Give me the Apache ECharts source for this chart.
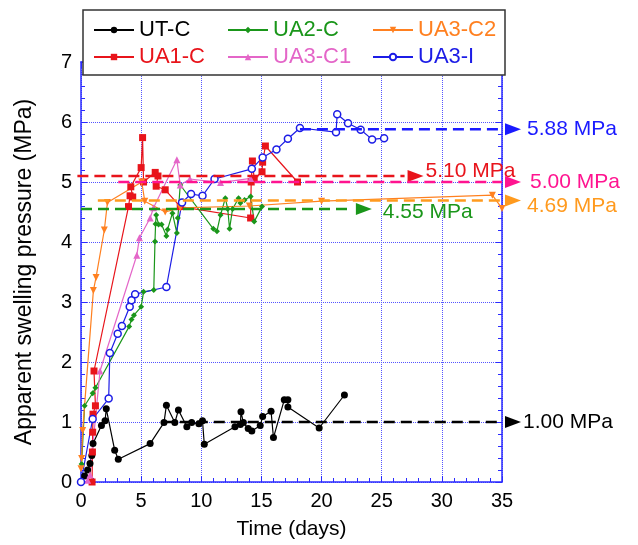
<!DOCTYPE html>
<html><head><meta charset="utf-8">
<script src="https://cdn.jsdelivr.net/npm/echarts@6/dist/echarts.min.js"></script>
<style>html,body{margin:0;padding:0;background:#fff}#c{width:638px;height:545px}</style>
</head><body><div id="c"></div><script>
// ---- data ----
const seriesNames = ['UT-C', 'UA1-C', 'UA2-C', 'UA3-C1', 'UA3-C2', 'UA3-I'];

const utcX = [0.3,0.55,0.75,0.9,1.0,1.7,2.0,2.1,2.8,3.1,5.75,6.9,7.1,7.8,8.1,8.8,9.2,9.8,10.1,10.25,12.8,13.25,13.3,13.5,13.9,14.2,14.9,15.1,15.8,16.0,16.9,17.2,17.2,19.8,21.9];
const utcY = [0.1,0.2,0.31,0.44,0.64,0.94,1.02,1.22,0.53,0.38,0.64,0.99,1.28,0.99,1.2,0.92,0.99,0.97,1.02,0.63,0.92,0.96,1.17,0.99,0.89,0.85,0.94,1.09,1.18,0.74,1.37,1.37,1.25,0.9,1.45];

const ua1X = [0.92,0.95,0.97,1.0,1.2,1.08,3.95,4.08,4.3,4.14,5.0,5.12,5.2,6.17,6.4,6.25,7.0,8.25,14.1,14.15,14.25,14.4,15.05,15.1,15.33,18.0];
const ua1Y = [0.0,0.5,0.83,1.13,1.27,1.85,4.59,4.77,4.75,4.92,5.24,5.74,5.0,5.16,5.1,4.93,4.87,4.59,4.4,5.0,5.35,5.05,5.17,5.33,5.6,5.0];

const ua2X = [0.05,0.3,0.97,1.2,4.0,4.2,4.4,5.0,5.2,6.05,6.15,6.2,6.25,6.45,6.7,7.1,7.2,7.6,7.97,8.05,8.25,11.0,11.3,11.6,12.0,12.2,12.35,12.6,13.1,13.25,13.6,14.1,14.4,15.05];
const ua2Y = [0.3,1.27,1.48,1.57,2.59,2.71,2.78,2.92,3.17,3.2,4.01,4.3,4.45,4.29,4.29,4.1,4.21,4.48,4.15,4.4,4.95,4.22,4.18,4.45,4.73,4.55,4.22,4.55,4.73,4.65,4.7,4.76,4.34,4.59];

const ua3c1X = [0.55,0.75,1.58,4.64,4.86,5.75,6.03,7.97,8.25,9.05,11.6,14.1];
const ua3c1Y = [0.03,0.12,1.85,3.78,4.07,4.4,4.57,5.37,4.95,5.05,4.99,5.06];

const ua3c2X = [0.0,0.05,0.14,1.03,1.25,1.94,2.2,5.05,5.3,7.0,8.25,14.0,20.0,34.2,35.0];
const ua3c2Y = [0.22,0.39,0.86,3.19,3.41,4.2,4.66,5.0,4.68,4.5,4.57,4.6,4.68,4.78,4.56];

const ua3iX = [0,0.97,2.3,2.4,3.05,3.4,4.05,4.2,4.5,7.1,8.4,9.15,10.1,11.1,14.2,15.1,16.25,17.2,18.2,21.2,21.3,22.2,23.25,24.2,25.2];
const ua3iY = [0,1.05,1.39,2.15,2.47,2.6,2.92,3.03,3.13,3.25,4.66,4.8,4.77,5.05,5.22,5.41,5.54,5.72,5.9,5.83,6.13,5.98,5.87,5.71,5.73];

// reference (plateau) lines
const refValues = [5.88, 5.10, 5.00, 4.69, 4.55, 1.00];
const refFrom   = [18.2, -0.3, 3.1, 1.4, 0, 6.8];
const refTo     = [35, 26.9, 35, 35, 22.6, 35];

const xTicks = {min: 0, max: 35, interval: 5};
const yTicks = {min: 0, max: 7, interval: 1};

// ---- styles ----
const FONT = 'Liberation Sans, Arial, sans-serif';
const AX = '#2b2bff';
const GRIDC = '#5555ff';
const colors = {
  'UT-C': '#000000', 'UA1-C': '#e8141b', 'UA2-C': '#1a961a',
  'UA3-C1': '#e466c8', 'UA3-C2': '#ff8020', 'UA3-I': '#1c1ce6'
};
const symbols = {
  'UT-C': ['circle', 7, 0], 'UA1-C': ['rect', 7, 0], 'UA2-C': ['diamond', 6, 0],
  'UA3-C1': ['triangle', 7, 0], 'UA3-C2': ['triangle', 7, 180], 'UA3-I': ['circle', 7, 0]
};
const refStyle = [
  {color: '#1a1aff', dx: 25, dy: 0},
  {color: '#e8141b', dx: 21, dy: -5},
  {color: '#ff1490', dx: 28, dy: 0},
  {color: '#ff9a1e', dx: 25, dy: 6},
  {color: '#1a961a', dx: 30, dy: 3},
  {color: '#000000', dx: 21, dy: 0}
];

const zip = (xs, ys) => xs.map((x, i) => [x, ys[i]]);
const dataMap = {
  'UT-C': zip(utcX, utcY), 'UA1-C': zip(ua1X, ua1Y), 'UA2-C': zip(ua2X, ua2Y),
  'UA3-C1': zip(ua3c1X, ua3c1Y), 'UA3-C2': zip(ua3c2X, ua3c2Y), 'UA3-I': zip(ua3iX, ua3iY)
};

const series = seriesNames.map(n => ({
  name: n, type: 'line', data: dataMap[n], clip: false,
  symbol: symbols[n][0], symbolSize: symbols[n][1], symbolRotate: symbols[n][2],
  showAllSymbol: true,
  lineStyle: {color: colors[n], width: 1.2},
  itemStyle: n === 'UA3-I'
    ? {color: '#ffffff', borderColor: colors[n], borderWidth: 1.5}
    : {color: colors[n], borderWidth: 0},
  emphasis: {disabled: true},
  z: 3
}));

series.push({
  type: 'custom', name: 'refs', clip: false, silent: true, z: 4,
  encode: {x: 1, y: 0},
  data: refValues.map((v, i) => [v, refFrom[i], refTo[i]]),
  renderItem: function (params, api) {
    const i = params.dataIndex;
    const v = api.value(0);
    const p0 = api.coord([api.value(1), v]);
    const p1 = api.coord([api.value(2), v]);
    const st = refStyle[i];
    const base = p1[0] + 3, tip = p1[0] + 19, y = p1[1];
    return {
      type: 'group',
      children: [
        {type: 'line', shape: {x1: p0[0], y1: y, x2: p1[0], y2: y},
         style: {stroke: st.color, lineWidth: 2.5, lineDash: [11, 6]}},
        {type: 'polygon', shape: {points: [[base, y - 6], [tip, y], [base, y + 6]]},
         style: {fill: st.color}},
        {type: 'text', x: p1[0] + st.dx, y: y + st.dy,
         style: {text: v.toFixed(2) + ' MPa', fill: st.color, font: '21px ' + FONT,
                 textVerticalAlign: 'middle', textAlign: 'left'}}
      ]
    };
  }
});

function legendCol(names, left) {
  return {
    orient: 'vertical', left: left, top: 19, itemGap: 5, itemWidth: 40, itemHeight: 8,
    padding: 0, z: 20, selectedMode: false,
    textStyle: {fontSize: 22, fontFamily: FONT},
    data: names.map(n => ({name: n, textStyle: {color: colors[n]}}))
  };
}

const commonAxis = {
  axisLine: {show: true, onZero: false, lineStyle: {color: AX, width: 1.5}},
  axisTick: {show: true, inside: true, length: 6, lineStyle: {color: AX}},
  minorTick: {show: true, splitNumber: 5, length: 4, lineStyle: {color: AX}}
};

const option = {
  backgroundColor: '#ffffff',
  animation: false,
  textStyle: {fontFamily: FONT},
  grid: {left: 81, right: 136, top: 62, bottom: 58, containLabel: false},
  legend: [
    legendCol(['UT-C', 'UA1-C'], 93),
    legendCol(['UA2-C', 'UA3-C1'], 227),
    legendCol(['UA3-C2', 'UA3-I'], 372)
  ],
  graphic: [{
    type: 'rect', z: 10, shape: {x: 83, y: 10, width: 422, height: 65},
    style: {fill: '#ffffff', stroke: '#333333', lineWidth: 1.5}
  }],
  xAxis: [
    Object.assign({}, commonAxis, {
      type: 'value', position: 'bottom', min: xTicks.min, max: xTicks.max, interval: xTicks.interval,
      splitLine: {show: true, lineStyle: {color: GRIDC, type: 'dotted', width: 1}},
      axisLabel: {color: '#000', fontSize: 20, margin: 9, fontFamily: FONT},
      name: 'Time (days)', nameLocation: 'middle', nameGap: 37,
      nameTextStyle: {color: '#000', fontSize: 21, fontFamily: FONT}
    }),
    Object.assign({}, commonAxis, {
      type: 'value', position: 'top', min: xTicks.min, max: xTicks.max, interval: xTicks.interval,
      splitLine: {show: false}, axisLabel: {show: false}
    })
  ],
  yAxis: [
    Object.assign({}, commonAxis, {
      type: 'value', position: 'left', min: yTicks.min, max: yTicks.max, interval: yTicks.interval,
      splitLine: {show: true, lineStyle: {color: GRIDC, type: 'dotted', width: 1}},
      axisLabel: {color: '#000', fontSize: 20, margin: 9, fontFamily: FONT},
      name: 'Apparent swelling pressure (MPa)', nameLocation: 'middle', nameGap: 45,
      nameTextStyle: {color: '#000', fontSize: 23, fontFamily: FONT}
    }),
    Object.assign({}, commonAxis, {
      type: 'value', position: 'right', min: yTicks.min, max: yTicks.max, interval: yTicks.interval,
      splitLine: {show: false}, axisLabel: {show: false}
    })
  ],
  series: series
};

const chart = echarts.init(document.getElementById('c'), null, {renderer: 'canvas'});
chart.setOption(option);
</script></body></html>
